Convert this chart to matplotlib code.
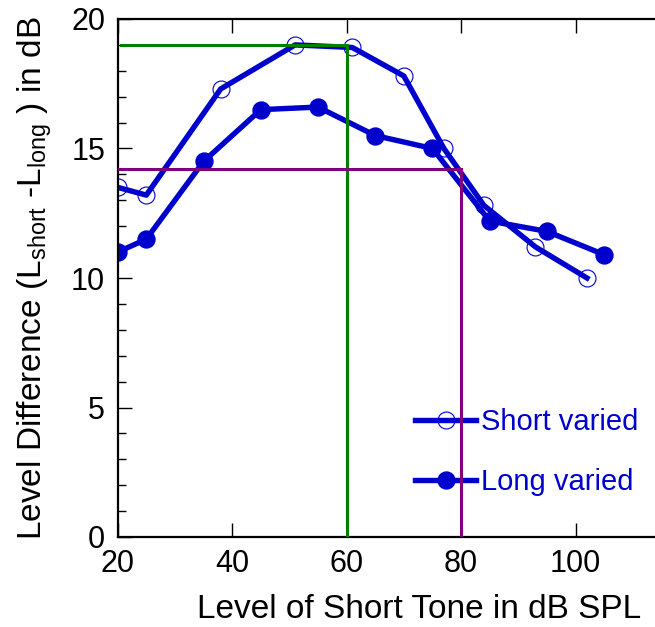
import matplotlib
matplotlib.use("Agg")
import matplotlib.pyplot as plt
from matplotlib.ticker import MultipleLocator

# Level of short tone (dB SPL) and level difference (dB)
short_x = [20, 25, 38, 51, 61, 70, 77, 84, 93, 102]
short_y = [13.5, 13.2, 17.3, 19.0, 18.9, 17.8, 15.0, 12.8, 11.2, 10.0]

long_x = [20, 25, 35, 45, 55, 65, 75, 85, 95, 105]
long_y = [11.0, 11.5, 14.5, 16.5, 16.6, 15.5, 15.0, 12.2, 11.8, 10.9]

# reference crosshairs: (x, y) for the green and purple lines
green_ref = (60, 19.0)
purple_ref = (80, 14.2)

plt.rcParams['font.family'] = ['Liberation Sans', 'DejaVu Sans']
plt.rcParams['mathtext.fontset'] = 'custom'
plt.rcParams['mathtext.rm'] = 'Liberation Sans'
plt.rcParams['mathtext.it'] = 'Liberation Sans'

blue = '#0000cc'

fig = plt.figure(figsize=(6.55, 6.27), dpi=100)
# right spine sits outside the picture, like in the original
ax = fig.add_axes([117.7 / 655, 90 / 627, 572.3 / 655, 518 / 627])

ax.plot(short_x, short_y, color=blue, lw=3.9, marker='o', ms=12.2,
        mfc='none', mec=blue, mew=0.8, label='Short varied', zorder=2)
ax.plot(long_x, long_y, color=blue, lw=3.9, marker='o', ms=12.2,
        mfc=blue, mec=blue, label='Long varied', zorder=2)

# crosshair lines
gx, gy = green_ref
ax.plot([20.6, gx], [gy, gy], color='#008000', lw=2.2, zorder=3)
ax.plot([gx, gx], [0, gy], color='#008000', lw=2.2, zorder=3)
px, py = purple_ref
ax.plot([20, px], [py, py], color='#800080', lw=2.2, zorder=3)
ax.plot([px, px], [0, py], color='#800080', lw=2.2, zorder=3)

ax.set_xlim(20, 120)
ax.set_ylim(0, 20)
ax.set_xticks([20, 40, 60, 80, 100, 120])
ax.set_xticklabels(['20', '40', '60', '80', '100', ''])
ax.set_yticks([0, 5, 10, 15, 20])
ax.yaxis.set_minor_locator(MultipleLocator(1))
ax.tick_params(which='both', direction='in', top=True, right=False, labelsize=22)
ax.tick_params(which='major', length=10, width=1)
ax.tick_params(which='minor', length=6, width=1)
ax.tick_params(axis='x', pad=9)
ax.tick_params(axis='y', pad=9)
for s in ax.spines.values():
    s.set_linewidth(1.6)

ax.set_xlabel('Level of Short Tone in dB SPL', fontsize=24)
ax.xaxis.set_label_coords((419 - 117.7) / 572.3, -(610 - 537) / 518, transform=ax.transAxes)
ax.xaxis.label.set_va('center')
ax.set_ylabel(r'Level Difference (L$_{\rm short}$ -L$_{\rm long}$ ) in dB', fontsize=24, labelpad=12)

leg = ax.legend(loc='center left', bbox_to_anchor=(415 / 655, 1 - 452 / 627),
                bbox_transform=fig.transFigure, frameon=False, borderpad=0,
                borderaxespad=0, fontsize=21, labelcolor=blue, handlelength=2.1,
                handletextpad=0.18, labelspacing=1.1, markerscale=1.0)
leg.set_zorder(1)

fig.savefig('out.png', dpi=100)
